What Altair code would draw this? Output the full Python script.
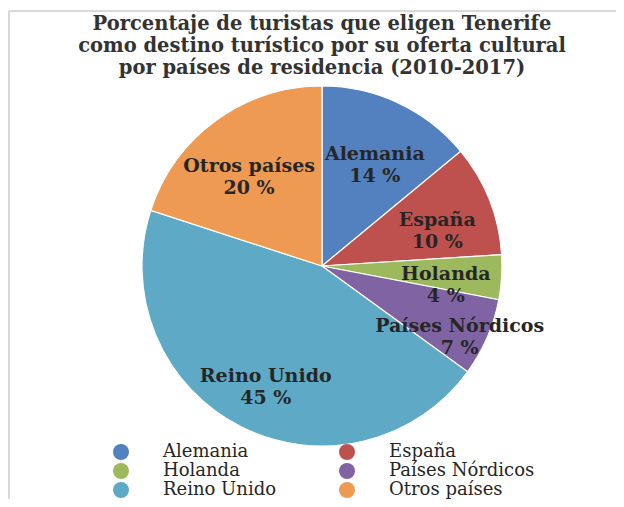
import altair as alt
import pandas as pd

paises = ["Alemania", "España", "Holanda", "Países Nórdicos", "Reino Unido", "Otros países"]
porcentajes = [14, 10, 4, 7, 45, 20]
colores = ["#5380BE", "#BE514E", "#9CBA5D", "#7F63A3", "#5EAAC6", "#EE9A52"]
titulo = [
    "Porcentaje de turistas que eligen Tenerife",
    "como destino turístico por su oferta cultural",
    "por países de residencia (2010-2017)",
]

df = pd.DataFrame({"pais": paises, "pct": porcentajes, "orden": list(range(len(paises)))})
df["etiqueta"] = [f"{p}\n{v} %" for p, v in zip(paises, porcentajes)]

FONT = "DejaVu Serif"
CX, CY = 314, 258
TXT = "#262626"

color = alt.Color(
    "pais:N",
    sort=paises,
    scale=alt.Scale(domain=paises, range=colores),
    legend=alt.Legend(
        orient="none", legendX=104, legendY=435, columns=2, direction="horizontal",
        title=None, symbolType="circle", symbolSize=256, symbolStrokeWidth=0,
        symbolOpacity=1, labelFont=FONT, labelFontSize=18, labelColor=TXT,
        labelOffset=33, columnPadding=62, rowPadding=1, padding=0,
    ),
)

base = alt.Chart(df).encode(
    theta=alt.Theta("pct:Q", stack=True),
    order=alt.Order("orden:Q"),
)

pie = base.mark_arc(outerRadius=180, stroke="white", strokeWidth=1.2).encode(
    color=color, x=alt.value(CX), y=alt.value(CY)
)

text_style = dict(font=FONT, fontWeight="bold", fontSize=19, lineBreak="\n",
                  color=TXT, lineHeight=22)

labels = base.mark_text(radius=124, **text_style).encode(
    text="etiqueta:N", x=alt.value(CX), y=alt.value(CY),
    opacity=alt.condition(alt.datum.pais == "Países Nórdicos", alt.value(0), alt.value(1)),
)
labels_out = base.mark_text(radius=150, **text_style).encode(
    text="etiqueta:N", x=alt.value(CX), y=alt.value(CY),
    opacity=alt.condition(alt.datum.pais == "Países Nórdicos", alt.value(1), alt.value(0)),
)

frame_top = alt.Chart(df).mark_rule(color="#d9d9d9", strokeWidth=2).encode(
    x=alt.value(1), x2=alt.value(616), y=alt.value(3)
)
frame_left = alt.Chart(df).mark_rule(color="#d9d9d9", strokeWidth=2).encode(
    x=alt.value(1), y=alt.value(3), y2=alt.value(491)
)

chart = alt.layer(frame_top, frame_left, pie, labels, labels_out).properties(
    width=608, height=491,
    autosize=alt.AutoSizeParams(type="none"),
    padding=0,
    title=alt.TitleParams(
        text=titulo, anchor="middle", frame="group", font=FONT, fontSize=19.5,
        fontWeight="bold", color="#333333", lineHeight=22, offset=-70, dx=10,
    ),
).configure_view(stroke=None)

chart.save("out.html", embed_options={"renderer": "svg", "actions": False})
